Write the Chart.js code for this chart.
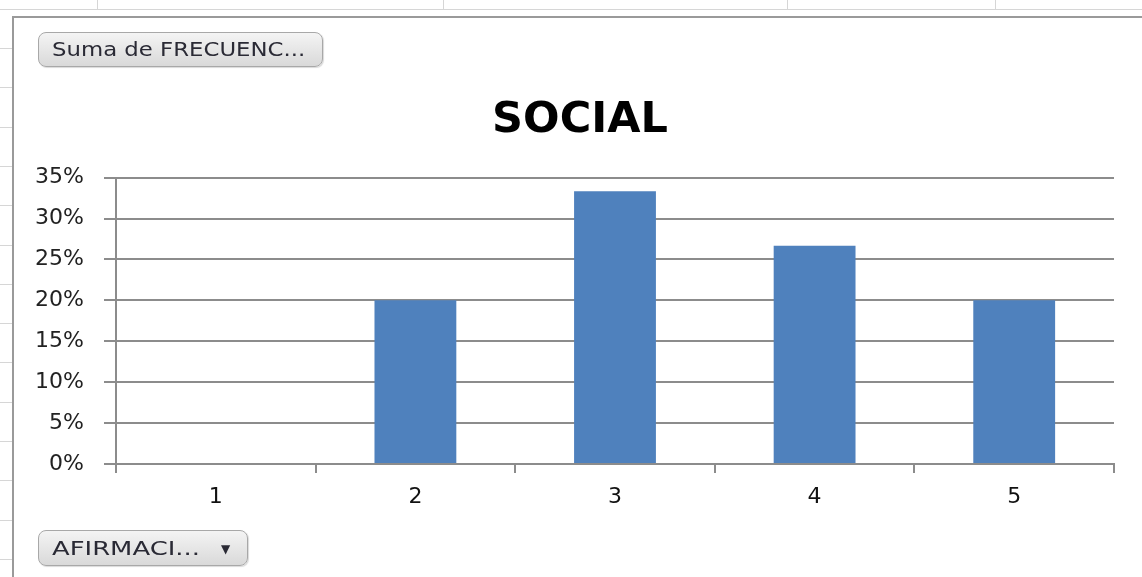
<!DOCTYPE html>
<html>
<head>
<meta charset="utf-8">
<script src="https://cdn.jsdelivr.net/npm/chart.js@4"></script>
<style>
  html, body { margin: 0; padding: 0; background: #fff; }
  body { width: 1142px; height: 577px; position: relative; overflow: hidden; font-family: "DejaVu Sans", sans-serif; }
  .sheet-h { position: absolute; left: 0; height: 1px; background: #d6d6d6; }
  .sheet-v { position: absolute; top: 0; width: 1px; height: 10px; background: #d6d6d6; }
  #frame { position: absolute; left: 12px; top: 16px; right: -10px; bottom: -10px; border-left: 2px solid #9a9a9a; border-top: 2px solid #9a9a9a; background: #fff; }
  #myChart { position: absolute; left: 0; top: 0; }
  .pill { position: absolute; box-sizing: border-box; border: 1px solid #a8a8a8; border-radius: 8px;
          background: linear-gradient(#f4f4f4, #d9d9d9); color: #2a2a35; font-size: 19px; line-height: 32px; padding-left: 13px;
          box-shadow: 1px 1px 1px rgba(0,0,0,0.15); white-space: nowrap; }
  .pill .txt { display: inline-block; transform-origin: left center; }
</style>
</head>
<body>
<div class="sheet-h" style="top:9px;width:1142px"></div>
<div class="sheet-v" style="left:97px"></div>
<div class="sheet-v" style="left:443px"></div>
<div class="sheet-v" style="left:787px"></div>
<div class="sheet-v" style="left:995px"></div>
<div id="rows"></div>
<div id="frame"></div>
<canvas id="myChart" width="1142" height="577"></canvas>
<div class="pill" style="left:38px;top:32px;width:285px;height:35px;"><span class="txt" style="transform:scaleX(1.2)">Suma de FRECUENC...</span></div>
<div class="pill" style="left:38px;top:530px;width:210px;height:36px;line-height:34px;"><span class="txt" style="transform:scaleX(1.36)">AFIRMACI...</span><span style="font-size:12px;position:absolute;left:182px;top:1px;">&#9660;</span></div>
<script>
(function () {
    // faint spreadsheet row lines left of the chart
    const rows = document.getElementById('rows');
    for (let y = 48; y < 577; y += 39.3) {
        const d = document.createElement('div');
        d.className = 'sheet-h';
        d.style.top = Math.round(y) + 'px';
        d.style.width = '12px';
        rows.appendChild(d);
    }
})();

const categories = ['1', '2', '3', '4', '5'];
const socialValues = [0, 20, 33.33, 26.67, 20];
const yTicks = [0, 5, 10, 15, 20, 25, 30, 35];

const ctx = document.getElementById('myChart').getContext('2d');
new Chart(ctx, {
    type: 'bar',
    data: {
        labels: categories,
        datasets: [{
            label: 'Suma de FRECUENCIA',
            data: socialValues,
            backgroundColor: '#4f81bd',
            borderWidth: 0,
            barPercentage: 0.41,
            categoryPercentage: 1
        }]
    },
    options: {
        responsive: false,
        animation: false,
        layout: { padding: { left: 18, right: 0, top: 0, bottom: 0 } },
        plugins: {
            legend: { display: false },
            tooltip: { enabled: false },
            title: {
                display: true,
                text: 'SOCIAL',
                color: '#000',
                font: { family: 'DejaVu Sans', size: 43, weight: 'bold' },
                padding: { top: 95, bottom: 31 }
            }
        },
        scales: {
            x: {
                afterFit: (scale) => { scale.height = 113; },
                grid: {
                    display: true,
                    offset: true,
                    drawOnChartArea: false,
                    drawTicks: true,
                    tickLength: 9,
                    color: '#8c8c8c',
                    lineWidth: 2
                },
                border: { display: true, color: '#8c8c8c', width: 2 },
                ticks: {
                    color: '#111',
                    padding: 11,
                    maxRotation: 0,
                    font: { family: 'DejaVu Sans', size: 22 }
                }
            },
            y: {
                min: yTicks[0],
                max: yTicks[yTicks.length - 1],
                afterFit: (scale) => { scale.width = 98; },
                afterBuildTicks: (scale) => { scale.ticks = yTicks.map(v => ({ value: v })); },
                grid: {
                    color: '#8c8c8c',
                    lineWidth: 2,
                    drawTicks: true,
                    tickLength: 12
                },
                border: { display: true, color: '#8c8c8c', width: 2 },
                ticks: {
                    color: '#222',
                    padding: 20,
                    font: { family: 'DejaVu Sans', size: 22 },
                    callback: (v) => v + '%'
                }
            },
            // empty right-hand axis: keeps the plot's right edge where the reference has it
            yRight: {
                position: 'right',
                afterFit: (scale) => { scale.width = 28; },
                grid: { display: false },
                border: { display: false },
                ticks: { display: false }
            }
        }
    }
});
</script>
</body>
</html>
